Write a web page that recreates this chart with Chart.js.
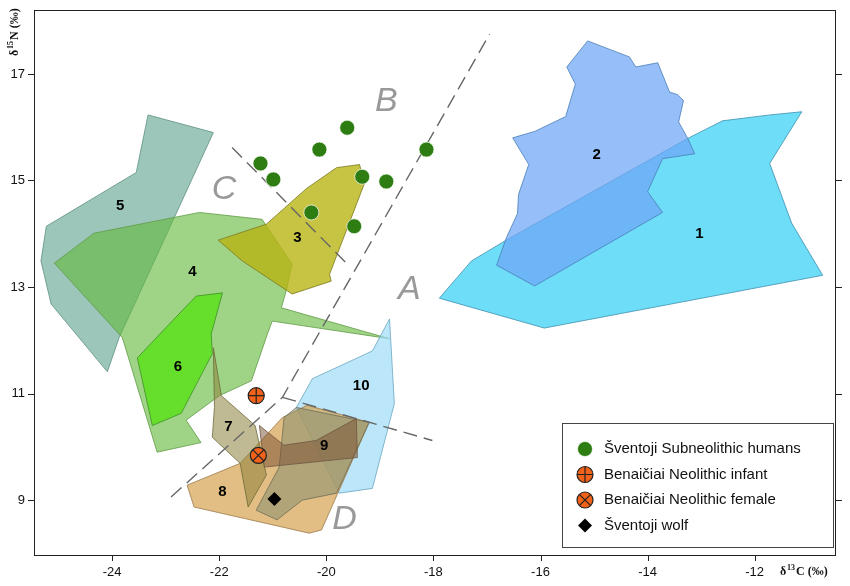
<!DOCTYPE html>
<html><head><meta charset="utf-8">
<script src="https://cdn.jsdelivr.net/npm/chart.js@4/dist/chart.umd.min.js"></script>
<style>html,body{margin:0;padding:0;background:#fff}#wrap{width:850px;height:586px}</style>
</head><body><div id="wrap"><canvas id="c"></canvas></div>
<script>
// axis ticks
const xTicks = [-24, -22, -20, -18, -16, -14, -12];
const yTicks = [9, 11, 13, 15, 17];

// polygon outlines [d13C, d15N]
const poly1 = [[-17.89,12.79],[-17.29,13.49],[-16.64,13.88],[-13.25,15.79],[-12.60,16.12],[-11.72,16.23],[-11.12,16.29],[-11.72,15.32],[-11.31,14.20],[-10.73,13.22],[-15.93,12.23]];
const poly2 = [[-15.12,17.62],[-14.34,17.32],[-14.22,17.13],[-13.81,17.21],[-13.59,16.66],[-13.44,16.61],[-13.33,16.50],[-13.42,16.10],[-13.25,15.79],[-13.12,15.50],[-13.72,15.41],[-14.00,14.79],[-13.72,14.40],[-16.11,13.02],[-16.82,13.41],[-16.64,13.92],[-16.43,14.38],[-16.41,14.74],[-16.22,15.30],[-16.52,15.80],[-16.11,15.92],[-15.53,16.20],[-15.35,16.81],[-15.51,17.13]];
const poly3 = [[-22.02,13.88],[-21.12,14.18],[-20.37,14.85],[-19.81,15.24],[-19.38,15.30],[-19.29,14.94],[-19.94,13.24],[-19.91,13.11],[-20.64,12.87],[-21.57,13.49]];
const poly4 = [[-25.08,13.45],[-24.34,14.01],[-22.37,14.40],[-21.20,14.27],[-20.64,13.43],[-20.75,12.93],[-20.84,12.61],[-18.82,12.03],[-21.01,12.36],[-21.10,12.12],[-21.40,11.24],[-22.00,10.96],[-22.62,10.50],[-22.34,10.08],[-23.16,9.90],[-23.81,12.05]];
const poly5 = [[-23.33,16.23],[-22.11,15.90],[-23.87,12.05],[-24.09,11.41],[-25.14,12.68],[-25.33,13.49],[-25.23,14.14],[-23.55,15.15]];
const poly6 = [[-22.43,12.83],[-21.94,12.89],[-22.15,12.12],[-22.13,11.75],[-22.71,10.63],[-23.25,10.40],[-23.53,11.67],[-22.88,12.36]];
const poly7 = [[-22.11,11.86],[-21.96,10.96],[-21.33,10.40],[-21.12,9.47],[-21.46,8.87],[-21.61,9.69],[-22.13,10.18],[-22.09,10.74]];
const poly8 = [[-22.60,9.28],[-21.61,9.69],[-20.82,10.55],[-20.36,10.78],[-19.20,10.46],[-20.09,8.44],[-20.32,8.38],[-22.47,8.87]];
const poly9 = [[-20.56,10.74],[-19.20,10.46],[-19.81,9.13],[-20.45,9.00],[-20.92,8.63],[-21.31,8.81],[-20.88,9.62],[-20.79,10.55]];
const poly9b = [[-21.25,10.40],[-20.79,10.03],[-20.19,10.12],[-19.44,10.53],[-19.42,9.80],[-21.16,9.62]];
const poly10 = [[-18.82,12.40],[-18.73,10.81],[-19.14,9.22],[-19.76,9.13],[-20.56,10.74],[-20.26,11.28],[-19.14,11.80]];

const polygons = [
  {pts: poly1, fill: 'rgba(40,205,245,0.68)', stroke: '#3d8fae', label: '1', at: [-13.03,13.99]},
  {pts: poly2, fill: 'rgba(110,165,245,0.72)', stroke: '#4a7fb8', label: '2', at: [-14.95,15.49]},
  {pts: poly5, fill: 'rgba(90,160,140,0.6)', stroke: '#5e8f80', label: '5', at: [-23.85,14.53]},
  {pts: poly4, fill: 'rgba(100,185,60,0.62)', stroke: '#5f9a45', label: '4', at: [-22.50,13.28]},
  {pts: poly3, fill: 'rgba(185,180,20,0.8)', stroke: '#7a7a20', label: '3', at: [-20.54,13.93]},
  {pts: poly6, fill: 'rgba(95,225,35,0.9)', stroke: '#3d8f25', label: '6', at: [-22.77,11.50]},
  {pts: poly10, fill: 'rgba(160,220,248,0.7)', stroke: '#6aa6c0', label: '10', at: [-19.35,11.15]},
  {pts: poly8, fill: 'rgba(215,165,85,0.72)', stroke: '#9a7a4a', label: '8', at: [-21.94,9.15]},
  {pts: poly9, fill: 'rgba(130,140,110,0.5)', stroke: '#6d6d55', label: '', at: null},
  {pts: poly9b, fill: 'rgba(120,80,50,0.5)', stroke: '#6d5540', label: '9', at: [-20.04,10.01]},
  {pts: poly7, fill: 'rgba(140,130,60,0.55)', stroke: '#6d6a3a', label: '7', at: [-21.83,10.38]}
];

// dashed division lines and region letters
const lineA = [[-22.90,9.06],[-20.82,10.93],[-16.95,17.75]];
const lineC = [[-21.76,15.62],[-19.57,13.39]];
const lineD = [[-20.82,10.93],[-18.02,10.12]];
const regionLetters = [['A',-18.45,12.96],['B',-18.88,16.48],['C',-21.91,14.83],['D',-19.66,8.63]];

// samples
const humans = [[-21.23,15.32],[-20.99,15.02],[-20.13,15.58],[-19.61,15.99],[-18.13,15.58],[-19.33,15.07],[-18.88,14.98],[-20.28,14.40],[-19.48,14.14]];
const infant = [[-21.31,10.96]];
const female = [[-21.27,9.84]];
const wolf = [[-20.97,9.02]];

const legendItems = [
  ['Šventoji Subneolithic humans','dot'],
  ['Benaičiai Neolithic infant','plus'],
  ['Benaičiai Neolithic female','cross'],
  ['Šventoji wolf','diamond']
];

function drawMarker(ctx, kind, x, y){
  ctx.save();
  if(kind==='dot'){
    ctx.beginPath(); ctx.arc(x,y,7.5,0,Math.PI*2); ctx.fillStyle='#2e7d12'; ctx.fill();
    ctx.lineWidth=1; ctx.strokeStyle='rgba(255,255,255,0.7)'; ctx.stroke();
  } else if(kind==='plus'||kind==='cross'){
    ctx.beginPath(); ctx.arc(x,y,8,0,Math.PI*2); ctx.fillStyle='#f0611a'; ctx.fill();
    ctx.lineWidth=1.2; ctx.strokeStyle='#222'; ctx.stroke();
    ctx.beginPath();
    if(kind==='plus'){ ctx.moveTo(x-8,y); ctx.lineTo(x+8,y); ctx.moveTo(x,y-8); ctx.lineTo(x,y+8); }
    else { const d=5.7; ctx.moveTo(x-d,y-d); ctx.lineTo(x+d,y+d); ctx.moveTo(x+d,y-d); ctx.lineTo(x-d,y+d); }
    ctx.stroke();
  } else {
    ctx.beginPath(); ctx.moveTo(x,y-7); ctx.lineTo(x+7,y); ctx.lineTo(x,y+7); ctx.lineTo(x-7,y); ctx.closePath();
    ctx.fillStyle='#000'; ctx.fill();
  }
  ctx.restore();
}

const areaPlugin = {
  id: 'areas',
  beforeDatasetsDraw(chart){
    const ctx = chart.ctx, xs = chart.scales.x, ys = chart.scales.y;
    const P = p => [xs.getPixelForValue(p[0]), ys.getPixelForValue(p[1])];
    ctx.save();
    for(const pg of polygons){
      ctx.beginPath();
      pg.pts.forEach((p,i)=>{ const q=P(p); i?ctx.lineTo(q[0],q[1]):ctx.moveTo(q[0],q[1]); });
      ctx.closePath();
      ctx.fillStyle = pg.fill; ctx.fill();
      ctx.lineWidth = 0.8; ctx.strokeStyle = pg.stroke; ctx.stroke();
    }
    // dashed lines
    ctx.setLineDash([14,7]); ctx.strokeStyle='#666'; ctx.lineWidth=1.4;
    for(const ln of [lineA,lineC,lineD]){
      ctx.beginPath();
      ln.forEach((p,i)=>{ const q=P(p); i?ctx.lineTo(q[0],q[1]):ctx.moveTo(q[0],q[1]); });
      ctx.stroke();
    }
    ctx.setLineDash([]);
    ctx.fillStyle='#999'; ctx.font='italic 34px "Liberation Sans", Arial'; ctx.textAlign='center'; ctx.textBaseline='middle';
    for(const r of regionLetters){ const q=P([r[1],r[2]]); ctx.fillText(r[0],q[0],q[1]); }
    ctx.fillStyle='#000'; ctx.font='bold 15px "Liberation Sans", Arial';
    for(const pg of polygons){ if(!pg.at) continue; const q=P(pg.at); ctx.fillText(pg.label,q[0],q[1]); }
    ctx.restore();
  },
  afterDatasetsDraw(chart){
    const ctx = chart.ctx, xs = chart.scales.x, ys = chart.scales.y, a = chart.chartArea;
    const groups = [[humans,'dot'],[infant,'plus'],[female,'cross'],[wolf,'diamond']];
    for(const g of groups) for(const p of g[0]) drawMarker(ctx, g[1], xs.getPixelForValue(p[0]), ys.getPixelForValue(p[1]));
    ctx.save();
    // frame
    ctx.strokeStyle='#222'; ctx.lineWidth=1; ctx.strokeRect(a.left+0.5,a.top+0.5,a.right-a.left,a.bottom-a.top);
    // ticks
    ctx.beginPath();
    for(const t of yTicks){ const y=Math.round(ys.getPixelForValue(t))+0.5; ctx.moveTo(a.left-6,y); ctx.lineTo(a.left,y); ctx.moveTo(a.right,y); ctx.lineTo(a.right+7,y); }
    for(const t of xTicks){ const x=Math.round(xs.getPixelForValue(t))+0.5; ctx.moveTo(x,a.bottom); ctx.lineTo(x,a.bottom+6); }
    ctx.stroke();
    // legend
    const lx=562, ly=423, lw=271, lh=124;
    ctx.fillStyle='#fff'; ctx.fillRect(lx,ly,lw,lh); ctx.strokeStyle='#444'; ctx.strokeRect(lx+0.5,ly+0.5,lw,lh);
    ctx.font='15px "Liberation Sans", Arial'; ctx.textAlign='left'; ctx.textBaseline='middle';
    legendItems.forEach((it,i)=>{ const y=ly+26+i*25.5; drawMarker(ctx,it[1],lx+23,y); ctx.fillStyle='#111'; ctx.fillText(it[0],lx+42,y); });
    // axis titles
    ctx.fillStyle='#111'; ctx.font='bold 12px "Liberation Serif", serif';
    ctx.textAlign='left'; ctx.textBaseline='middle';
    ctx.fillText('δ',780,572); ctx.font='bold 8px "Liberation Serif", serif'; ctx.fillText('13',787,568);
    ctx.font='bold 12px "Liberation Serif", serif'; ctx.fillText('C (‰)',796,572);
    ctx.translate(15,56); ctx.rotate(-Math.PI/2);
    ctx.fillText('δ',0,0); ctx.font='bold 8px "Liberation Serif", serif'; ctx.fillText('15',7,-4);
    ctx.font='bold 12px "Liberation Serif", serif'; ctx.fillText('N (‰)',16,0);
    ctx.restore();
  }
};

new Chart(document.getElementById('c'), {
  type: 'scatter',
  data: { datasets: [{ data: [] }] },
  options: {
    responsive: true, maintainAspectRatio: false, animation: false,
    layout: { padding: { top: 10, right: 15, left: 0, bottom: 0 } },
    plugins: { legend: { display: false }, tooltip: { enabled: false } },
    scales: {
      x: { min: -25.46, max: -10.5,
        afterBuildTicks: s => { s.ticks = xTicks.map(v => ({value: v})); },
        afterFit: s => { s.height = 31; s.paddingLeft = 0; s.paddingRight = 0; },
        grid: { display: false, drawTicks: false }, border: { display: false },
        ticks: { color: '#111', font: { size: 13, family: '"Liberation Sans", Arial' }, padding: 10, maxRotation: 0 } },
      y: { min: 7.97, max: 18.2,
        afterBuildTicks: s => { s.ticks = yTicks.map(v => ({value: v})); },
        afterFit: s => { s.width = 34; s.paddingTop = 0; s.paddingBottom = 0; },
        grid: { display: false, drawTicks: false }, border: { display: false },
        ticks: { color: '#111', font: { size: 13, family: '"Liberation Sans", Arial' }, padding: 9 } }
    }
  },
  plugins: [areaPlugin]
});
</script></body></html>
